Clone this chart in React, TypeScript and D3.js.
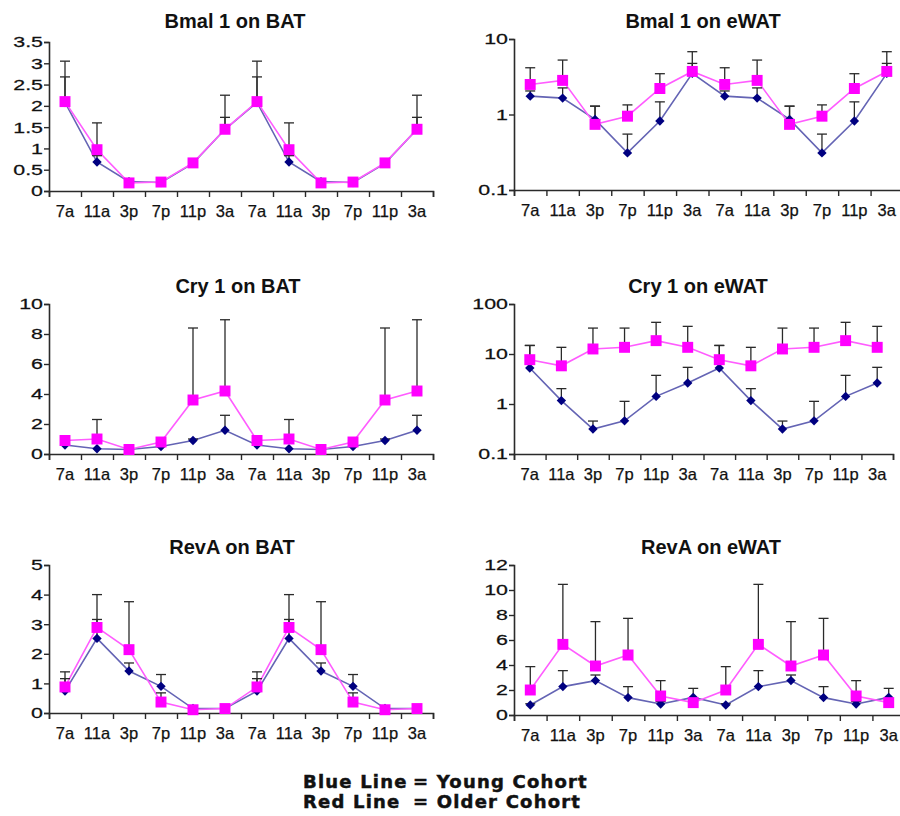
import React, { useEffect, useRef } from 'react';
import * as d3 from 'd3';

// Sampling times (the 24 h cycle is plotted twice)
const hours = ['7a', '11a', '3p', '7p', '11p', '3a', '7a', '11a', '3p', '7p', '11p', '3a'];

// Bmal 1 on BAT
const bmalBatYoung = [2.08, 0.68, 0.22, 0.2, 0.65, 1.45, 2.08, 0.68, 0.22, 0.2, 0.65, 1.45];
const bmalBatYoungErr = [0.6, 0.15, 0.02, 0.02, 0.03, 0.28, 0.6, 0.15, 0.02, 0.02, 0.03, 0.28];
const bmalBatOld = [2.1, 0.97, 0.19, 0.21, 0.66, 1.45, 2.1, 0.97, 0.19, 0.21, 0.66, 1.45];
const bmalBatOldErr = [0.95, 0.63, 0.03, 0.03, 0.05, 0.8, 0.95, 0.63, 0.03, 0.03, 0.05, 0.8];

// Bmal 1 on eWAT
const bmalWatYoung = [1.75, 1.65, 0.86, 0.31, 0.82, 3.5, 1.75, 1.65, 0.86, 0.31, 0.82, 3.5];
const bmalWatYoungErr = [0.3, 0.6, 0.43, 0.24, 0.65, 1.25, 0.3, 0.6, 0.43, 0.24, 0.65, 1.25];
const bmalWatOld = [2.5, 2.83, 0.74, 0.95, 2.21, 3.72, 2.5, 2.83, 0.74, 0.95, 2.21, 3.72];
const bmalWatOldErr = [1.66, 2.43, 0.55, 0.39, 1.26, 3.07, 1.66, 2.43, 0.55, 0.39, 1.26, 3.07];

// Cry 1 on BAT
const cryBatYoung = [0.6, 0.35, 0.3, 0.5, 0.9, 1.58, 0.6, 0.35, 0.3, 0.5, 0.9, 1.58];
const cryBatYoungErr = [0.05, 0.05, 0.02, 0.1, 0.1, 1.0, 0.05, 0.05, 0.02, 0.1, 0.1, 1.0];
const cryBatOld = [0.9, 1.0, 0.3, 0.8, 3.6, 4.2, 0.9, 1.0, 0.3, 0.8, 3.6, 4.2];
const cryBatOldErr = [0.05, 1.3, 0.02, 0.25, 4.8, 4.75, 0.05, 1.3, 0.02, 0.25, 4.8, 4.75];

// Cry 1 on eWAT
const cryWatYoung = [5.25, 1.17, 0.316, 0.46, 1.42, 2.63, 5.25, 1.17, 0.316, 0.46, 1.42, 2.63];
const cryWatYoungErr = [9.5, 0.86, 0.14, 0.67, 2.32, 2.78, 9.5, 0.86, 0.14, 0.67, 2.32, 2.78];
const cryWatOld = [7.7, 5.8, 12.6, 13.6, 18.5, 13.6, 7.7, 5.8, 12.6, 13.6, 18.5, 13.6];
const cryWatOldErr = [7.2, 7.8, 20.4, 19.4, 24.5, 22.1, 7.2, 7.8, 20.4, 19.4, 24.5, 22.1];

// RevA on BAT
const revBatYoung = [0.74, 2.52, 1.42, 0.9, 0.15, 0.15, 0.74, 2.52, 1.42, 0.9, 0.15, 0.15];
const revBatYoungErr = [0.42, 0.64, 0.27, 0.4, 0.02, 0.02, 0.42, 0.64, 0.27, 0.4, 0.02, 0.02];
const revBatOld = [0.88, 2.89, 2.14, 0.37, 0.11, 0.15, 0.88, 2.89, 2.14, 0.37, 0.11, 0.15];
const revBatOldErr = [0.51, 1.11, 1.62, 0.31, 0.02, 0.02, 0.51, 1.11, 1.62, 0.31, 0.02, 0.02];

// RevA on eWAT
const revWatYoung = [0.8, 2.27, 2.75, 1.39, 0.88, 1.41, 0.8, 2.27, 2.75, 1.39, 0.88, 1.41];
const revWatYoungErr = [0.1, 1.28, 0.45, 0.88, 0.2, 0.72, 0.1, 1.28, 0.45, 0.88, 0.2, 0.72];
const revWatOld = [2.0, 5.65, 3.92, 4.8, 1.52, 0.99, 2.0, 5.65, 3.92, 4.8, 1.52, 0.99];
const revWatOldErr = [1.87, 4.8, 3.55, 2.93, 1.23, 0.3, 1.87, 4.8, 3.55, 2.93, 1.23, 0.3];

const panels = [
  { title: 'Bmal 1 on BAT', young: bmalBatYoung, youngErr: bmalBatYoungErr, old: bmalBatOld, oldErr: bmalBatOldErr,
    log: false, domain: [0, 3.5], ticks: [0, 0.5, 1, 1.5, 2, 2.5, 3, 3.5],
    box: { x0: 49, x1: 433, y0: 42, y1: 191, tx: 235, ty: 21 } },
  { title: 'Bmal 1 on eWAT', young: bmalWatYoung, youngErr: bmalWatYoungErr, old: bmalWatOld, oldErr: bmalWatOldErr,
    log: true, domain: [0.1, 10], ticks: [0.1, 1, 10],
    box: { x0: 514, x1: 903, y0: 39, y1: 190, tx: 703, ty: 21 } },
  { title: 'Cry 1 on BAT', young: cryBatYoung, youngErr: cryBatYoungErr, old: cryBatOld, oldErr: cryBatOldErr,
    log: false, domain: [0, 10], ticks: [0, 2, 4, 6, 8, 10],
    box: { x0: 49, x1: 433, y0: 304, y1: 454, tx: 238, ty: 286 } },
  { title: 'Cry 1 on eWAT', young: cryWatYoung, youngErr: cryWatYoungErr, old: cryWatOld, oldErr: cryWatOldErr,
    log: true, domain: [0.1, 100], ticks: [0.1, 1, 10, 100],
    box: { x0: 514, x1: 893, y0: 304, y1: 454, tx: 698, ty: 286 } },
  { title: 'RevA on BAT', young: revBatYoung, youngErr: revBatYoungErr, old: revBatOld, oldErr: revBatOldErr,
    log: false, domain: [0, 5], ticks: [0, 1, 2, 3, 4, 5],
    box: { x0: 49, x1: 433, y0: 565, y1: 713, tx: 232, ty: 547 } },
  { title: 'RevA on eWAT', young: revWatYoung, youngErr: revWatYoungErr, old: revWatOld, oldErr: revWatOldErr,
    log: false, domain: [0, 12], ticks: [0, 2, 4, 6, 8, 10, 12],
    box: { x0: 514, x1: 905, y0: 565, y1: 715, tx: 711, ty: 547 } },
];

const YOUNG_LINE = '#6464b4';
const YOUNG_MARK = '#000080';
const OLD_LINE = '#ff5cff';
const OLD_MARK = '#ff00ff';
const AXIS = '#2a2a2a';
const FONT = '"Liberation Sans", Arial, sans-serif';
const Y_STRETCH = 1.38;

const App = () => {
  const chartRef = useRef<SVGGElement>(null);

  useEffect(() => {
    document.body.style.margin = '0';
    const root = d3.select(chartRef.current);
    root.selectAll('*').remove();

    panels.forEach(p => {
      const { x0, x1, y0, y1, tx, ty } = p.box;
      const g = root.append('g');

      const idx = d3.range(hours.length);
      const x = d3.scaleBand<number>().domain(idx).range([x0, x1]);
      const xEdge = d3.scaleLinear().domain([0, hours.length]).range([x0, x1]);
      const y = p.log
        ? d3.scaleLog().domain(p.domain).range([y1, y0])
        : d3.scaleLinear().domain(p.domain).range([y1, y0]);
      const cx = (i: number) => (x(i) as number) + x.bandwidth() / 2;

      // title
      g.append('text')
        .attr('x', tx).attr('y', ty).attr('dy', '0.35em')
        .attr('text-anchor', 'middle')
        .style('font-family', FONT)
        .style('font-weight', 'bold').style('font-size', '20px')
        .style('fill', '#111')
        .text(p.title);

      // x axis: tick marks sit on category boundaries
      g.append('g')
        .attr('transform', `translate(0,${y1})`)
        .call(d3.axisBottom(xEdge).tickValues(d3.range(hours.length + 1)).tickSize(6).tickFormat(() => ''))
        .call(a => a.select('.domain').attr('stroke', AXIS).attr('stroke-width', 1.6))
        .call(a => a.selectAll('.tick line').attr('stroke', AXIS).attr('stroke-width', 1.4));

      // x labels
      g.append('g')
        .attr('transform', `translate(0,${y1})`)
        .call(d3.axisBottom(x).tickSize(0).tickPadding(14).tickFormat(i => hours[i as number]))
        .call(a => a.select('.domain').remove())
        .call(a => a.selectAll('text')
          .style('font-family', FONT)
          .style('font-size', '16.5px').style('fill', '#111')
          .style('stroke', '#111').style('stroke-width', 0.25));

      // y axis (labels in the source are horizontally stretched)
      const fmt = d3.format('~g');
      const ya = g.append('g')
        .attr('transform', `translate(${x0},0)`)
        .call(d3.axisLeft(y as any).tickValues(p.ticks).tickSize(5).tickFormat(d => fmt(d as number)));
      ya.select('.domain').attr('stroke', AXIS).attr('stroke-width', 1.6);
      ya.selectAll('.tick line').attr('stroke', AXIS).attr('stroke-width', 1.4);
      ya.selectAll('.tick text')
        .attr('x', -6 / Y_STRETCH)
        .attr('transform', `scale(${Y_STRETCH},1)`)
        .style('font-family', FONT)
        .style('font-size', '15.5px').style('fill', '#111')
        .style('stroke', '#111').style('stroke-width', 0.25);

      const series = [
        { vals: p.young, errs: p.youngErr, line: YOUNG_LINE, mark: YOUNG_MARK, shape: 'diamond' },
        { vals: p.old, errs: p.oldErr, line: OLD_LINE, mark: OLD_MARK, shape: 'square' },
      ];

      // lines
      series.forEach(s => {
        const line = d3.line<number>().x((_, i) => cx(i)).y(v => y(v) as number);
        g.append('path')
          .attr('d', line(s.vals))
          .attr('fill', 'none')
          .attr('stroke', s.line)
          .attr('stroke-width', 1.6);
      });

      // error bars (upper only)
      series.forEach(s => {
        s.vals.forEach((v, i) => {
          const top = y(v + s.errs[i]) as number;
          const base = y(v) as number;
          if (base - top < 1) return;
          g.append('line')
            .attr('x1', cx(i)).attr('x2', cx(i))
            .attr('y1', base).attr('y2', top)
            .attr('stroke', AXIS).attr('stroke-width', 1.3);
          g.append('line')
            .attr('x1', cx(i) - 5).attr('x2', cx(i) + 5)
            .attr('y1', top).attr('y2', top)
            .attr('stroke', AXIS).attr('stroke-width', 1.3);
        });
      });

      // markers
      series.forEach(s => {
        s.vals.forEach((v, i) => {
          const isSquare = s.shape === 'square';
          const sym = d3.symbol().type(d3.symbolSquare).size(isSquare ? 120 : 44);
          g.append('path')
            .attr('d', sym() as string)
            .attr('transform', `translate(${cx(i)},${y(v)})${isSquare ? '' : ' rotate(45)'}`)
            .attr('fill', s.mark);
        });
      });
    });
  }, []);

  const legendStyle: React.CSSProperties = {
    fontFamily: '"DejaVu Sans", Verdana, sans-serif',
    fontWeight: 'bold',
    fontSize: '18px',
    fill: '#111',
    stroke: '#111',
    strokeWidth: 0.5,
    letterSpacing: '1.2px',
  };

  return (
    <svg width={900} height={816}
      style={{ position: 'absolute', left: 0, top: 0, background: '#fff' }}>
      <g ref={chartRef} />
      <text y={788} style={legendStyle}>
        <tspan x={303}>Blue Line</tspan>
        <tspan x={413}>= Young Cohort</tspan>
      </text>
      <text y={808} style={legendStyle}>
        <tspan x={303}>Red Line</tspan>
        <tspan x={413}>= Older Cohort</tspan>
      </text>
    </svg>
  );
};

export default App;
